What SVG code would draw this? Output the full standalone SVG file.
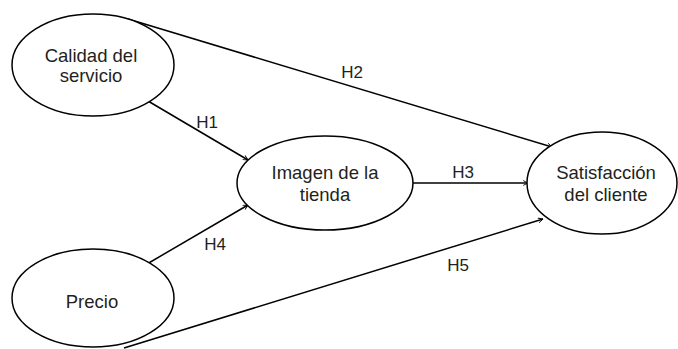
<svg xmlns="http://www.w3.org/2000/svg" width="678" height="349" viewBox="0 0 678 349">
<style>
.node ellipse{fill:#fff;stroke:#000;stroke-width:1.5}
text{font-family:"Liberation Sans",Arial,sans-serif;font-size:18.5px;fill:#231f20;text-anchor:middle}
.lbl{font-size:17px}
.edges line{stroke:#000;stroke-width:1.5;marker-end:url(#arr)}
</style>
<defs>
<marker id="arr" viewBox="0 0 10 10" refX="9" refY="5" markerWidth="6" markerHeight="6" orient="auto" markerUnits="userSpaceOnUse">
<polyline points="1,1 9,5 1,9" fill="none" stroke="#000" stroke-width="1.5"/>
</marker>
</defs>
<rect width="678" height="349" fill="#fff"/>
<g class="edges">
<line x1="128" y1="19" x2="552" y2="147"/>
<line x1="148" y1="101" x2="248" y2="160"/>
<line x1="412" y1="183" x2="528" y2="183"/>
<line x1="147" y1="264" x2="248" y2="205"/>
<line x1="124" y1="348" x2="543" y2="219"/>
<text class="lbl" x="352" y="78">H2</text>
<text class="lbl" x="207" y="128">H1</text>
<text class="lbl" x="463" y="178">H3</text>
<text class="lbl" x="215" y="250">H4</text>
<text class="lbl" x="458" y="271">H5</text>
</g>
<g id="calidad" class="node">
<ellipse cx="93" cy="65" rx="81" ry="51"/>
<text x="91" y="62">Calidad del</text>
<text x="91" y="82">servicio</text>
</g>
<g id="imagen" class="node">
<ellipse cx="325" cy="183" rx="88" ry="47"/>
<text x="325" y="179">Imagen de la</text>
<text x="325" y="201">tienda</text>
</g>
<g id="satisfaccion" class="node">
<ellipse cx="602" cy="183" rx="75" ry="51"/>
<text x="606" y="179">Satisfacción</text>
<text x="606" y="201">del cliente</text>
</g>
<g id="precio" class="node">
<ellipse cx="93" cy="298" rx="81" ry="49"/>
<text x="92" y="308">Precio</text>
</g>
</svg>
